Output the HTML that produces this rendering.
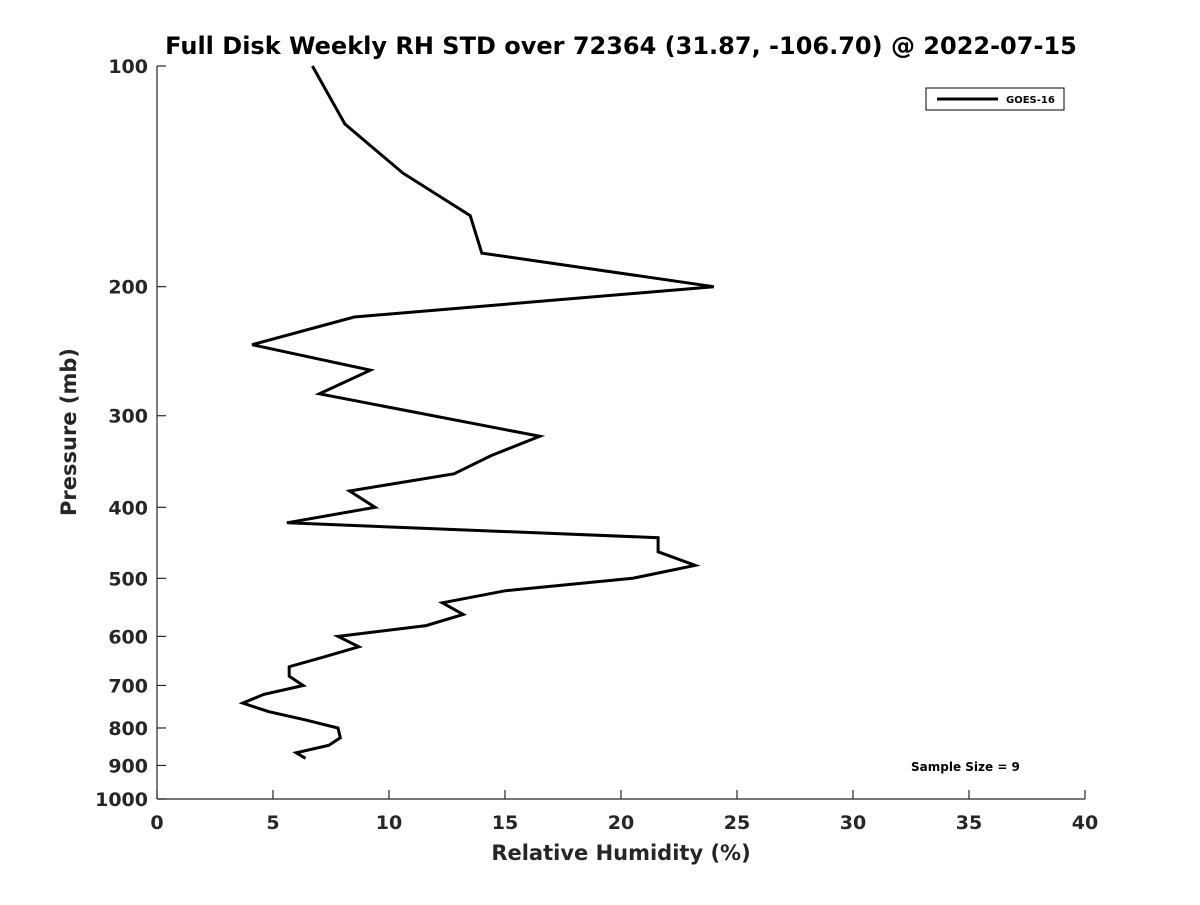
<!DOCTYPE html>
<html><head><meta charset="utf-8"><style>
body{margin:0;background:#fff}
svg text{font-family:"DejaVu Sans","Liberation Sans",sans-serif;font-weight:bold;fill:#262626}
</style></head><body>
<svg id="chart" width="1200" height="900" xmlns="http://www.w3.org/2000/svg">
<rect width="1200" height="900" fill="#fff"/>
<text x="621" y="54" font-size="24" text-anchor="middle" fill="#000" style="fill:#000">Full Disk Weekly RH STD over 72364 (31.87, -106.70) @ 2022-07-15</text>
<g id="axes"></g>
<path id="series" fill="none" stroke="#000" stroke-width="3" stroke-linejoin="miter"/>
<text x="621" y="860" font-size="21" text-anchor="middle">Relative Humidity (%)</text>
<text transform="translate(76,432) rotate(-90)" font-size="21" text-anchor="middle">Pressure (mb)</text>
<g>
<rect x="926" y="88" width="138" height="22" fill="#fff" stroke="#000" stroke-width="1"/>
<line x1="937" y1="99" x2="998" y2="99" stroke="#000" stroke-width="3"/>
<text x="1006" y="103" font-size="10" style="fill:#000">GOES-16</text>
</g>
<text x="911" y="771" font-size="12" style="fill:#000">Sample Size = 9</text>
</svg>
<script>
const rhValues=[6.7,8.1,10.6,13.5,14.0,24.0,8.5,4.1,9.2,7.0,16.5,14.4,12.8,8.3,9.4,5.6,21.6,21.6,23.2,20.5,15.0,12.3,13.2,11.6,7.8,8.7,7.2,5.7,5.7,6.3,4.6,3.7,4.8,6.4,7.8,7.9,7.4,6.0,6.4];
const pressures=[100,120,140,160,180,200,220,240,260,280,320,340,360,380,400,420,440,460,480,500,520,540,560,580,600,620,640,660,680,700,720,740,760,780,800,825,845,865,880];
const xTicks=[0,5,10,15,20,25,30,35,40];
const yTicks=[100,200,300,400,500,600,700,800,900,1000];
const X0=157,X1=1085,Y0=66,Y1=799;
const xs=v=>X0+(v-0)/(40-0)*(X1-X0);
const ys=p=>Y0+(Math.log10(p)-2)*(Y1-Y0);
const ns="http://www.w3.org/2000/svg";
const ax=document.getElementById('axes');
function mk(t,a){const e=document.createElementNS(ns,t);for(const k in a)e.setAttribute(k,a[k]);ax.appendChild(e);return e;}
let l=mk('line',{x1:X0,y1:Y0,x2:X0,y2:Y1,stroke:'#262626','stroke-width':1.2});


l=mk('line',{x1:X0,y1:Y1,x2:X1,y2:Y1,stroke:'#262626','stroke-width':1.2});


xTicks.forEach(v=>{
 const x=xs(v);
 const t=mk('line',{x1:x,y1:Y1,x2:x,y2:Y1-9,stroke:'#262626','stroke-width':1.2});
 
 
 const tx=mk('text',{x:x,y:Y1+30,'font-size':19,'text-anchor':'middle'});
 tx.textContent=v;
 
 
});
yTicks.forEach(p=>{
 const y=ys(p);
 const t=mk('line',{x1:X0,y1:y,x2:X0+9,y2:y,stroke:'#262626','stroke-width':1.2});
 
 
 const tx=mk('text',{x:148,y:y+7,'font-size':19,'text-anchor':'end'});
 tx.textContent=p;
 
 
});
document.getElementById('series').setAttribute('d',rhValues.map((v,i)=>(i?'L':'M')+xs(v).toFixed(1)+','+ys(pressures[i]).toFixed(1)).join(''));
</script>
</body></html>
